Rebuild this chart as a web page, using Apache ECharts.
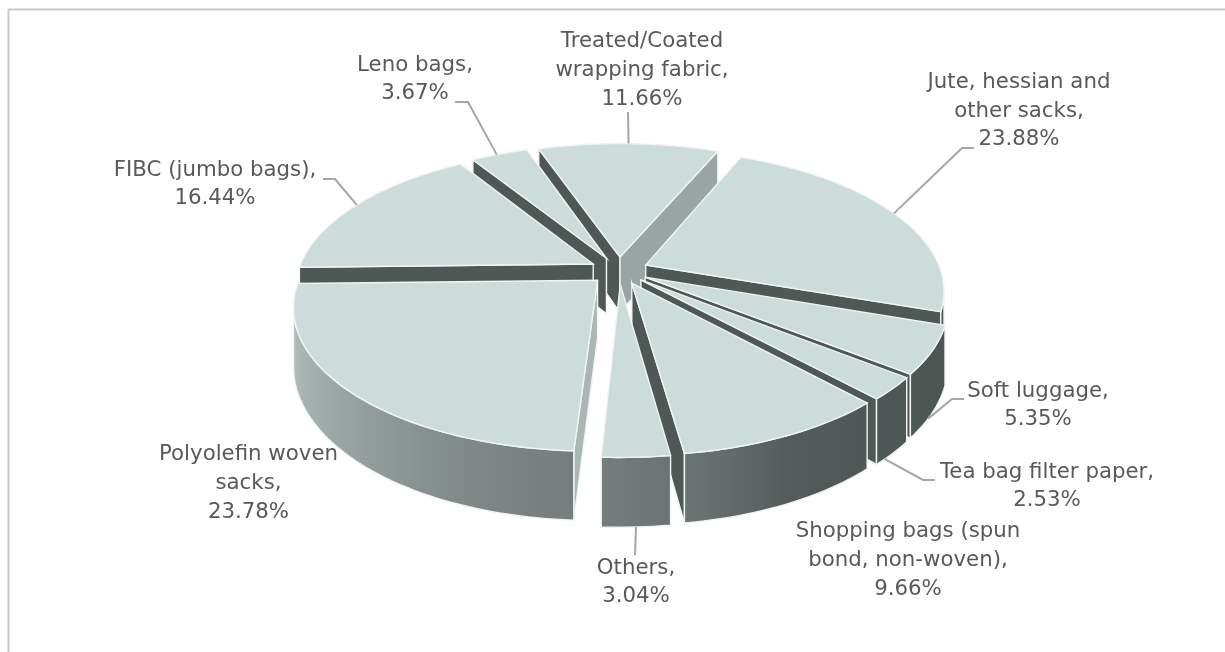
<!DOCTYPE html>
<html>
<head>
<meta charset="utf-8">
<style>html,body{margin:0;padding:0;background:#fff}#c{width:1225px;height:652px}</style>
<script src="https://cdn.jsdelivr.net/npm/echarts@6/dist/echarts.min.js"></script>
</head>
<body>
<div id="c"></div>
<script>
// ---- data (clockwise from the first slice) ----
const categories = ['Jute, hessian and\nother sacks','Soft luggage','Tea bag filter paper','Shopping bags (spun\nbond, non-woven)','Others','Polyolefin woven\nsacks','FIBC (jumbo bags)','Leno bags','Treated/Coated\nwrapping fabric'];
const shares = [23.88,5.35,2.53,9.66,3.04,23.78,16.44,3.67,11.66];

// ---- layout and style ----
const paintRank = [2,4,5,7,8,6,3,1,0];
const labelPos = [[1019,111],[1038,405.5],[1047,486.5],[908,560.5],[636,582.5],[248.5,483.5],[215,184.5],[415,79.5],[642,70.5]];
// leader: fraction along the slice arc, on bottom rim?, then elbow points
const leaders = [
  {f:0.5,bottom:false,pts:[[962,148],[974,148]]},
  {f:0.62,bottom:true,pts:[[952,399],[964,399]]},
  {f:0.75,bottom:true,pts:[[923,480],[935,480]]},
  null,
  {f:0.5,bottom:true,pts:[[635,555]]},
  null,
  {f:0.5,bottom:false,pts:[[335,179],[323,179]]},
  {f:0.45,bottom:false,pts:[[468,102],[455,102]]},
  {f:0.5,bottom:false,pts:[[628,112]]}
];
const view = {cx:619,cy:270.5,a:295,b:137.5,p:0.1736,h:56.5,explode:0.1,rot:23};
const colTop='#ccdcda', colEdge='#f0f4f3', colText='#595959', colLeader='#a6a6a6';
const wallShade = [[100,[74,84,81]],[140,[78,88,86]],[155,[83,93,91]],[170,[104,114,112]],[185,[117,127,126]],[200,[126,137,135]],[225,[150,162,159]],[250,[173,185,182]],[270,[182,194,191]],[360,[182,194,191]]];

const rad=d=>d*Math.PI/180;
function project(X,Y,z){
  const w=1-view.p*Y;
  return [view.cx+view.a*X/w, view.cy+(view.b*Y+z*view.h)/w];
}
function shade(t){
  t=((t%360)+360)%360;
  if(t<=wallShade[0][0]) return 'rgb('+wallShade[0][1].join(',')+')';
  for(let i=1;i<wallShade.length;i++){
    if(t<=wallShade[i][0]){
      const [t0,c0]=wallShade[i-1],[t1,c1]=wallShade[i],k=(t-t0)/(t1-t0);
      return 'rgb('+c0.map((v,j)=>Math.round(v+(c1[j]-v)*k)).join(',')+')';
    }
  }
  return 'rgb('+wallShade[wallShade.length-1][1].join(',')+')';
}
const total=shares.reduce((s,v)=>s+v,0);
const startCum=[];shares.reduce((s,v,i)=>{startCum[i]=s;return s+v;},0);
const camY=1/view.p;
// a vertical face is seen when its outward normal points towards the camera
function facing(px,py,normalDeg){
  return (-px)*Math.sin(rad(normalDeg))+(camY-py)*(-Math.cos(rad(normalDeg)))>0;
}

function renderSlice(params,api){
  const i=params.dataIndex, val=api.value(0);
  const t0=view.rot+startCum[i]/total*360, t1=t0+val/total*360, tm=(t0+t1)/2;
  const ox=view.explode*Math.sin(rad(tm)), oy=-view.explode*Math.cos(rad(tm));
  const P=(t,z,r)=>project(ox+(r===0?0:Math.sin(rad(t))),oy+(r===0?0:-Math.cos(rad(t))),z);
  const n=Math.max(4,Math.ceil((t1-t0)/1.5));
  const ts=[];for(let k=0;k<=n;k++)ts.push(t0+(t1-t0)*k/n);
  const topArc=ts.map(t=>P(t,0));
  const apexTop=P(0,0,0), apexBot=P(0,1,0);
  const z=paintRank[i]*10+1;
  const children=[];
  const cutColor=(norm)=>{norm=((norm%360)+360)%360;return norm<=100?'#aab6b4':(norm<=125?'#98a5a3':'#4e5956');};
  if(facing(ox,oy,t0-90)) children.push({type:'polygon',z2:z,shape:{points:[apexTop,P(t0,0),P(t0,1),apexBot]},style:{fill:cutColor(t0-90),stroke:colEdge,lineWidth:1.4}});
  if(facing(ox,oy,t1+90)) children.push({type:'polygon',z2:z,shape:{points:[apexTop,P(t1,0),P(t1,1),apexBot]},style:{fill:cutColor(t1+90),stroke:colEdge,lineWidth:1.4}});
  // outer rim, only the part that faces the camera, gradient follows the facing angle
  const seen=ts.filter(t=>facing(ox+Math.sin(rad(t)),oy-Math.cos(rad(t)),t));
  if(seen.length>1){
    const up=seen.map(t=>P(t,0)),dn=seen.map(t=>P(t,1));
    const xs=up.map(p=>p[0]);const x0=Math.min(...xs),x1=Math.max(...xs);
    const stops=seen.map((t,k)=>({offset:(x1>x0?(xs[k]-x0)/(x1-x0):0),color:shade(t)})).sort((u,v)=>u.offset-v.offset);
    children.push({type:'polygon',z2:z+1,shape:{points:up.concat(dn.slice().reverse())},
      style:{fill:new echarts.graphic.LinearGradient(x0,0,x1,0,stops,true),stroke:colEdge,lineWidth:1.4}});
  }
  // top face
  children.push({type:'polygon',z2:z+2,shape:{points:[apexTop].concat(topArc)},style:{fill:colTop,stroke:colEdge,lineWidth:1.4}});
  // leader
  const ld=leaders[i];
  if(ld){
    const ta=t0+(t1-t0)*ld.f;
    children.push({type:'polyline',z2:900,shape:{points:[P(ta,ld.bottom?1:0)].concat(ld.pts)},style:{fill:null,stroke:colLeader,lineWidth:2}});
  }
  // label
  children.push({type:'text',z2:1000,x:labelPos[i][0],y:labelPos[i][1],style:{
    text:categories[i]+',\n'+val.toFixed(2)+'%',textAlign:'center',textVerticalAlign:'middle',
    fill:colText,font:'21.3px "DejaVu Sans"',lineHeight:28.7}});
  return {type:'group',children};
}

const chart=echarts.init(document.getElementById('c'),null,{renderer:'canvas'});
chart.setOption({
  animation:false,
  backgroundColor:'#fff',
  graphic:[
    {type:'line',shape:{x1:8,y1:9.5,x2:1225,y2:9.5},style:{stroke:'#c8c8c8',lineWidth:2},silent:true},
    {type:'line',shape:{x1:8.5,y1:9,x2:8.5,y2:652},style:{stroke:'#c8c8c8',lineWidth:2},silent:true}
  ],
  series:[{type:'custom',coordinateSystem:'none',silent:true,clip:false,
    data:shares.map((v,i)=>({name:categories[i],value:[v]})),
    renderItem:renderSlice}]
});
</script>
</body>
</html>
